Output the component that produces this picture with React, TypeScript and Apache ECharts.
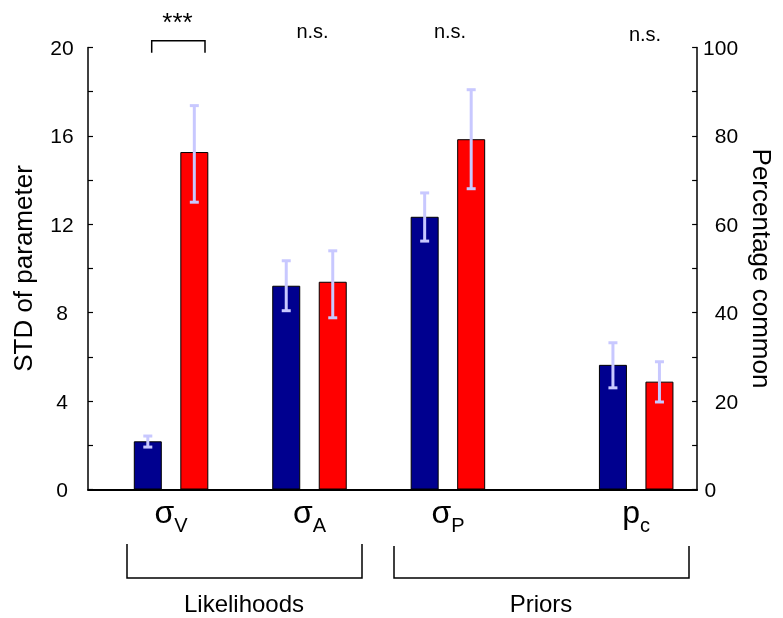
import React, { useEffect, useRef } from "react";
import * as echarts from "echarts";

// ---- data ----
const catMain = ["σ", "σ", "σ", "p"];
const catSub = ["V", "A", "P", "c"];
const groupPos = [0.6, 1.6, 2.6, 3.96];
const pairOffset = 0.168;

// STD of parameter (left axis) for σV, σA, σP
const stdBlue = [2.18, 9.22, 12.34];
const stdBlueLow = [1.92, 8.09, 11.24];
const stdBlueHigh = [2.42, 10.35, 13.42];
const stdRed = [15.27, 9.4, 15.85];
const stdRedLow = [13.0, 7.77, 13.61];
const stdRedHigh = [17.37, 10.8, 18.09];

// Percentage common (right axis) for pc
const pcBlue = [28.2];
const pcBlueLow = [23.0];
const pcBlueHigh = [33.2];
const pcRed = [24.4];
const pcRedLow = [19.8];
const pcRedHigh = [28.9];

const leftTicks = { min: 0, max: 20, interval: 2, labelEvery: 4 };
const rightTicks = { min: 0, max: 100, interval: 10, labelEvery: 20 };

const sigLabels = ["***", "n.s.", "n.s.", "n.s."];

const FONT = "'Liberation Sans', Arial, Helvetica, sans-serif";
const BLUE = "#00008f";
const RED = "#ff0000";
const ERR = "#c8c8ff";

function errRender(params: any, api: any) {
  const x = api.value(0);
  const lo = api.coord([x, api.value(1)]);
  const hi = api.coord([x, api.value(2)]);
  const w = 4.5;
  const st = { stroke: ERR, lineWidth: 3 };
  return {
    type: "group",
    children: [
      { type: "line", shape: { x1: lo[0], y1: lo[1], x2: hi[0], y2: hi[1] }, style: st },
      { type: "line", shape: { x1: lo[0] - w, y1: lo[1], x2: lo[0] + w, y2: lo[1] }, style: st },
      { type: "line", shape: { x1: hi[0] - w, y1: hi[1], x2: hi[0] + w, y2: hi[1] }, style: st },
    ],
  };
}

export default function App() {
  const ref = useRef<HTMLDivElement>(null);
  useEffect(() => {
    if (!ref.current) return;
    const chart = echarts.init(ref.current, null, { renderer: "svg" });

    const nStd = stdBlue.length;
    const blueStdData = stdBlue.map((v, i) => [groupPos[i] - pairOffset, v]);
    const redStdData = stdRed.map((v, i) => [groupPos[i] + pairOffset, v]);
    const bluePcData = pcBlue.map((v, i) => [groupPos[nStd + i] - pairOffset, v]);
    const redPcData = pcRed.map((v, i) => [groupPos[nStd + i] + pairOffset, v]);

    const errStd = [
      ...stdBlue.map((_, i) => [groupPos[i] - pairOffset, stdBlueLow[i], stdBlueHigh[i]]),
      ...stdRed.map((_, i) => [groupPos[i] + pairOffset, stdRedLow[i], stdRedHigh[i]]),
    ];
    const errPc = [
      ...pcBlue.map((_, i) => [groupPos[nStd + i] - pairOffset, pcBlueLow[i], pcBlueHigh[i]]),
      ...pcRed.map((_, i) => [groupPos[nStd + i] + pairOffset, pcRedLow[i], pcRedHigh[i]]),
    ];

    const barCommon = {
      type: "bar",
      barWidth: 28,
      barGap: "-100%",
      itemStyle: { borderColor: "#000", borderWidth: 1 },
    };

    const labelRich = catMain.map((m, i) => `{m|${m}}{s|${catSub[i]}}`);

    const sigX = [177.5, 312.5, 450, 645];
    const sigY = [22, 30.5, 30.5, 34];

    const option: any = {
      animation: false,
      textStyle: { fontFamily: FONT, color: "#000" },
      grid: { left: 88, right: 81, top: 47.5, bottom: 128.5 },
      xAxis: {
        type: "value",
        min: 0,
        max: 4.4,
        splitLine: { show: false },
        axisTick: { show: false },
        axisLine: { show: true, onZero: false, lineStyle: { color: "#000", width: 2 } },
        axisLabel: {
          customValues: groupPos,
          margin: 6,
          color: "#000",
          verticalAlign: "top",
          formatter: (v: number) => {
            const i = groupPos.findIndex((p) => Math.abs(p - v) < 1e-6);
            return i >= 0 ? labelRich[i] : "";
          },
          rich: {
            m: { fontSize: 32, lineHeight: 36, verticalAlign: "top", fontFamily: FONT, color: "#000" },
            s: { fontSize: 20, lineHeight: 58, verticalAlign: "middle", fontFamily: FONT, color: "#000" },
          },
        },
      },
      yAxis: [
        {
          type: "value",
          position: "left",
          min: leftTicks.min,
          max: leftTicks.max,
          interval: leftTicks.interval,
          name: "STD of parameter",
          nameLocation: "middle",
          nameGap: 52,
          nameTextStyle: { fontSize: 26, color: "#000", fontFamily: FONT },
          splitLine: { show: false },
          axisLine: { show: true, lineStyle: { color: "#000", width: 1.5 } },
          axisTick: { show: true, inside: true, length: 5, lineStyle: { color: "#000", width: 1.2 } },
          axisLabel: {
            fontSize: 21,
            color: "#000",
            align: "center",
            margin: 26,
            fontFamily: FONT,
            formatter: (v: number) => (v % leftTicks.labelEvery === 0 ? String(v) : ""),
          },
        },
        {
          type: "value",
          position: "right",
          min: rightTicks.min,
          max: rightTicks.max,
          interval: rightTicks.interval,
          name: "Percentage common",
          nameLocation: "middle",
          nameRotate: -90,
          nameGap: 50,
          nameTextStyle: { fontSize: 26, color: "#000", fontFamily: FONT },
          splitLine: { show: false },
          axisLine: { show: true, lineStyle: { color: "#000", width: 1.5 } },
          axisTick: { show: true, inside: true, length: 5, lineStyle: { color: "#000", width: 1.2 } },
          axisLabel: {
            fontSize: 21,
            color: "#000",
            align: "right",
            margin: 41,
            fontFamily: FONT,
            formatter: (v: number) =>
              v % rightTicks.labelEvery !== 0 ? "" : v === 0 ? "{z|0}" : String(v),
            rich: { z: { fontSize: 21, padding: [0, 22, 0, 0], fontFamily: FONT, color: "#000" } },
          },
        },
      ],
      series: [
        { ...barCommon, name: "blue", yAxisIndex: 0, data: blueStdData, itemStyle: { ...barCommon.itemStyle, color: BLUE } },
        { ...barCommon, name: "red", yAxisIndex: 0, data: redStdData, itemStyle: { ...barCommon.itemStyle, color: RED } },
        { ...barCommon, name: "bluePc", yAxisIndex: 1, data: bluePcData, itemStyle: { ...barCommon.itemStyle, color: BLUE } },
        { ...barCommon, name: "redPc", yAxisIndex: 1, data: redPcData, itemStyle: { ...barCommon.itemStyle, color: RED } },
        { type: "custom", yAxisIndex: 0, data: errStd, renderItem: errRender, clip: false, z: 10, encode: { x: 0, y: [1, 2] } },
        { type: "custom", yAxisIndex: 1, data: errPc, renderItem: errRender, clip: false, z: 10, encode: { x: 0, y: [1, 2] } },
      ],
      graphic: [
        ...sigLabels.map((t, i) => ({
          type: "text",
          x: sigX[i],
          y: sigY[i],
          style: {
            text: t,
            fontSize: t === "***" ? 26 : 20,
            fontFamily: FONT,
            fill: "#000",
            align: "center",
            verticalAlign: "middle",
          },
        })),
        {
          type: "polyline",
          shape: { points: [[151.7, 52.7], [151.7, 40.7], [205, 40.7], [205, 52.7]] },
          style: { stroke: "#000", lineWidth: 1.5, fill: null },
        },
        {
          type: "polyline",
          shape: { points: [[127, 544], [127, 578], [362, 578], [362, 544]] },
          style: { stroke: "#000", lineWidth: 1.5, fill: null },
        },
        {
          type: "polyline",
          shape: { points: [[394, 546], [394, 578], [689, 578], [689, 546]] },
          style: { stroke: "#000", lineWidth: 1.5, fill: null },
        },
        {
          type: "text",
          x: 244,
          y: 603,
          style: { text: "Likelihoods", fontSize: 24, fontFamily: FONT, fill: "#000", align: "center", verticalAlign: "middle" },
        },
        {
          type: "text",
          x: 541,
          y: 603,
          style: { text: "Priors", fontSize: 24, fontFamily: FONT, fill: "#000", align: "center", verticalAlign: "middle" },
        },
      ],
    };
    chart.setOption(option);
    return () => chart.dispose();
  }, []);
  return <div ref={ref} style={{ position: "fixed", left: 0, top: 0, width: 783, height: 618 }} />;
}
